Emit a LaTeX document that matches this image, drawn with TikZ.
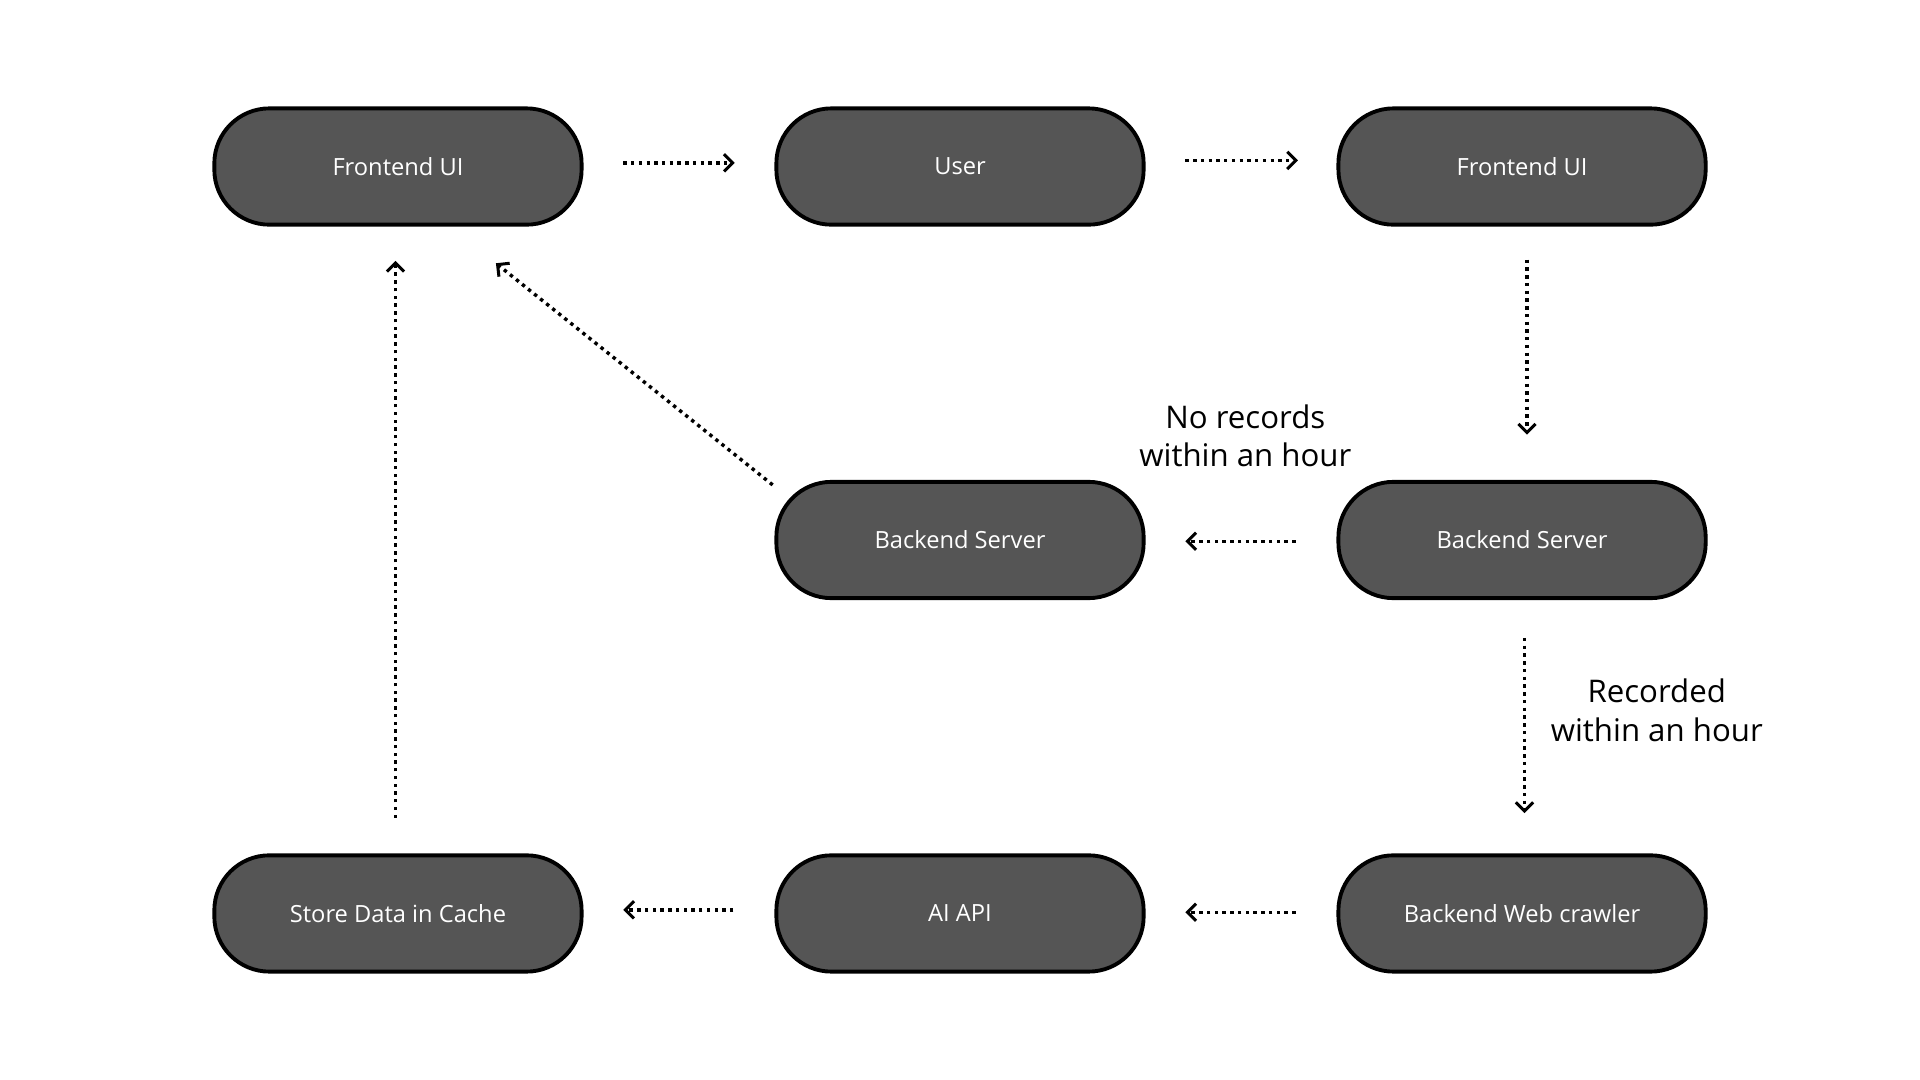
\documentclass[tikz,border=0pt]{standalone}
\usepackage{fontspec}
\setmainfont{Open Sans}
\usetikzlibrary{arrows.meta}
\definecolor{nodegray}{HTML}{555555}
\begin{document}
\begin{tikzpicture}[x=0.02cm,y=-0.02cm,
  box/.style={draw=black,line width=1.8pt,fill=nodegray,rounded corners=0.9cm,minimum width=6cm,minimum height=1.9cm,text=white,font=\fontsize{11}{13}\selectfont},
  arr/.style={line width=1.6pt,dotted,-{Straight Barb[length=4pt,width=8pt,line width=1.4pt]},shorten >=0pt},
  lab/.style={align=center,font=\fontsize{14.5}{18}\selectfont}]
\fill[white] (0,0) rectangle (1568,882);
\node[box] (f1) at (325,136) {Frontend UI};
\node[box] (u) at (784,136) {User};
\node[box] (f2) at (1243,136) {Frontend UI};
\node[box] (b1) at (784,441) {Backend Server};
\node[box] (b2) at (1243,441) {Backend Server};
\node[box] (s) at (325,746) {Store Data in Cache};
\node[box] (ai) at (784,746) {AI API};
\node[box] (wc) at (1243,746) {Backend Web crawler};
\coordinate (a1s) at (509,133); \coordinate (a1e) at (600,133);
\coordinate (a2s) at (968,131); \coordinate (a2e) at (1060,131);
\coordinate (a3s) at (1247,212); \coordinate (a3e) at (1247,355);
\coordinate (a4s) at (1058,442); \coordinate (a4e) at (968,442);
\coordinate (a5s) at (631,396); \coordinate (a5e) at (405,215);
\coordinate (a6s) at (1245,521); \coordinate (a6e) at (1245,664);
\coordinate (a7s) at (1058,745); \coordinate (a7e) at (968,745);
\coordinate (a8s) at (599,743); \coordinate (a8e) at (509,743);
\coordinate (a9s) at (323,668); \coordinate (a9e) at (323,213);
\foreach \i in {1,...,9} \draw[arr] (a\i s) -- (a\i e);
\node[lab] (l1) at (1017,356) {No records\\within an hour};
\node[lab] (l2) at (1353,580) {Recorded\\within an hour};
\end{tikzpicture}
\end{document}
